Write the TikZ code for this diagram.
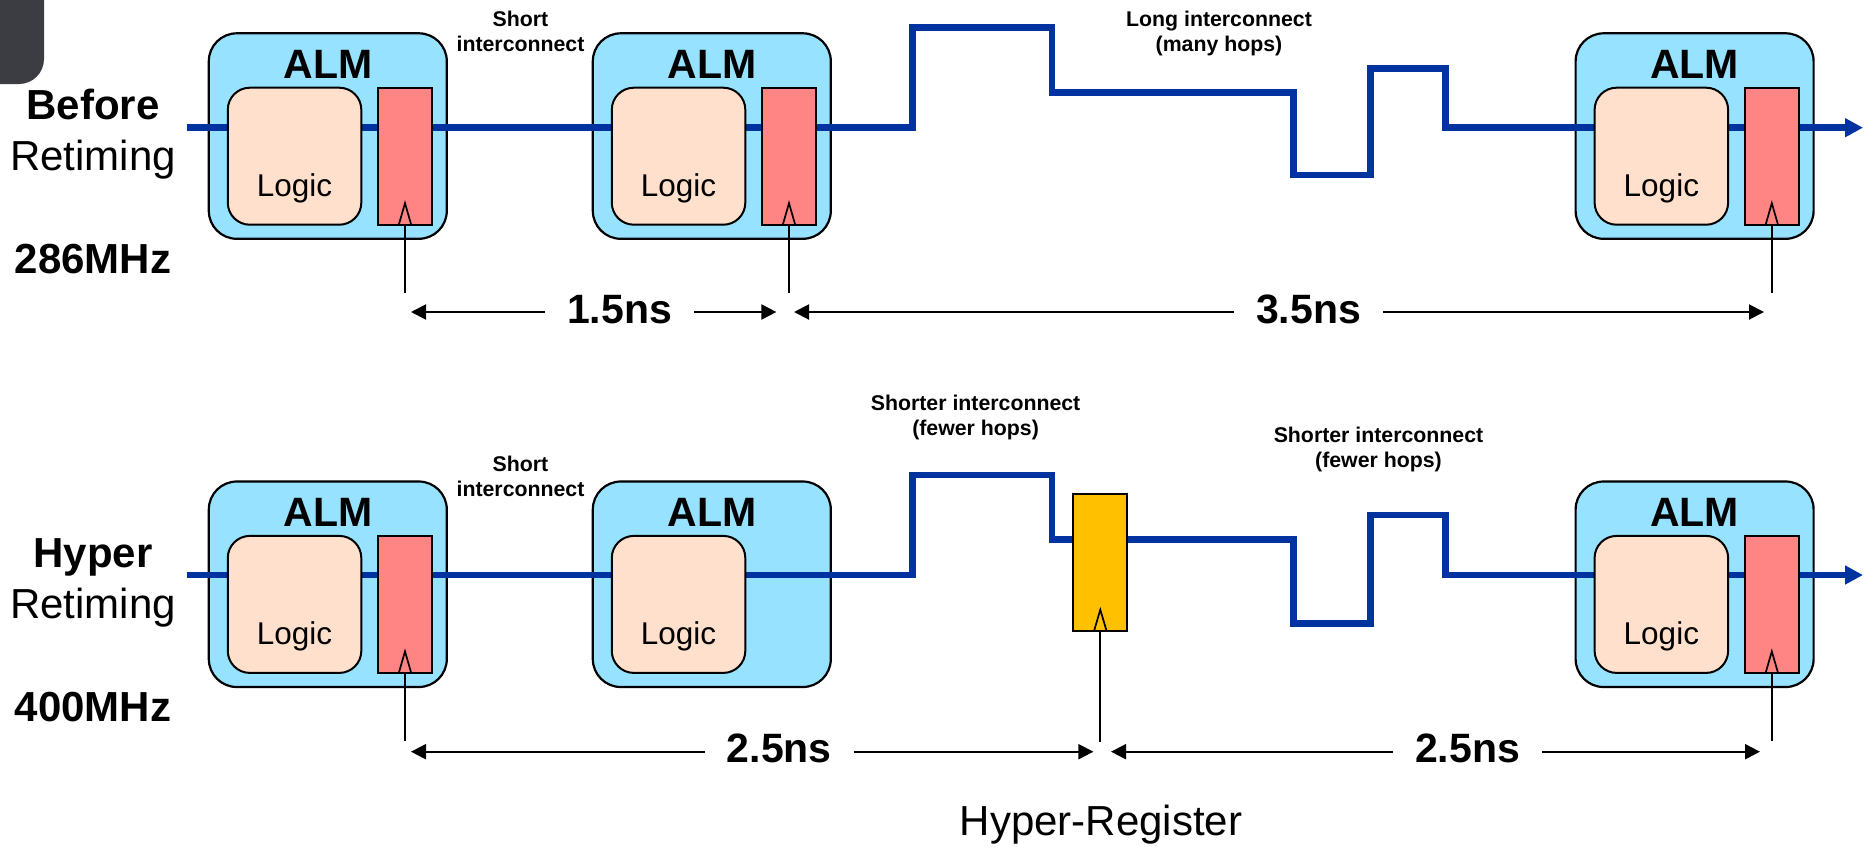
\documentclass[tikz,border=0pt]{standalone}
\usepackage{fontspec}
\setmainfont{Liberation Sans}
\usetikzlibrary{arrows.meta,calc}
\definecolor{almc}{RGB}{150,226,255}
\definecolor{logc}{RGB}{255,224,204}
\definecolor{regc}{RGB}{255,133,133}
\definecolor{hypc}{RGB}{255,192,0}
\definecolor{wirec}{RGB}{0,51,160}
\definecolor{tabc}{RGB}{60,61,66}
\pgfdeclarelayer{bg}\pgfdeclarelayer{mid}\pgfsetlayers{bg,mid,main}
% #1 id, #2 left x, #3 top y, #4 = 1 if the ALM has a register
\newcommand\almunit[4]{%
  \begin{pgfonlayer}{bg}
    \node[almbox,anchor=north west] (a#1) at (#2,#3) {};
  \end{pgfonlayer}
  \node[almlbl] (at#1) at ($(a#1.north)+(0,45.3)$) {ALM};
  \node[logicbox,anchor=north west] (l#1) at ($(a#1.north west)+(19,54.4)$) {};
  \node[logiclbl] (lt#1) at ($(l#1.north)+(0,109)$) {Logic};
  \ifnum#4=1
    \node[regbox,anchor=north west] (r#1) at ($(a#1.north west)+(169.2,54.4)$) {};
    \coordinate (c#1) at ($(r#1.south)+(0,68)$);
    \draw[clk] (c#1) -- (r#1.south);
    \draw[clk] ([xshift=-6.2pt]r#1.south) -- ([yshift=21.5pt]r#1.south) -- ([xshift=6.2pt]r#1.south);
  \fi
}
\begin{document}
\begin{tikzpicture}[x=1pt,y=-1pt,
  almbox/.style={draw=black,line width=2.2pt,fill=almc,rounded corners=28pt,minimum width=238pt,minimum height=205.5pt,inner sep=0pt,outer sep=0pt},
  logicbox/.style={draw=black,line width=2pt,fill=logc,rounded corners=22pt,minimum width=133.5pt,minimum height=137pt,inner sep=0pt,outer sep=0pt},
  regbox/.style={draw=black,line width=1.8pt,fill=regc,minimum width=54pt,minimum height=137pt,inner sep=0pt,outer sep=0pt},
  hregbox/.style={regbox,fill=hypc,minimum height=136.4pt},
  wire/.style={draw=wirec,line width=6.5pt,line join=miter},
  clk/.style={draw=black,line width=1.7pt},
  dim/.style={draw=black,line width=2pt,-{Triangle[length=15pt,width=15pt]}},
  dimlbl/.style={font=\fontsize{41}{49}\selectfont\bfseries,inner xsep=22pt,inner ysep=0pt,anchor=base},
  almlbl/.style={font=\fontsize{41}{49}\selectfont\bfseries,inner sep=0pt,anchor=base},
  logiclbl/.style={font=\fontsize{31.5}{38}\selectfont,inner sep=0pt,anchor=base},
  side/.style={font=\fontsize{42}{50}\selectfont,inner sep=0pt,anchor=base},
  sideb/.style={font=\fontsize{42}{50}\selectfont\bfseries,inner sep=0pt,anchor=base},
  note/.style={font=\fontsize{21.3}{25}\selectfont\bfseries,inner sep=0pt,anchor=base},
]
\useasboundingbox (0,0) rectangle (1870,846);
\fill[tabc,rounded corners=25pt] (-40,-40) rectangle (44,84);

% ---------- row 1 : before retiming ----------
\node[sideb] (b1) at (93,119.3) {Before};
\node[side]  (b2) at (93,170.7) {Retiming};
\node[sideb] (b3) at (93,273.3) {286MHz};

\almunit{11}{208.8}{33.3}{1}
\almunit{12}{592.8}{33.3}{1}
\almunit{13}{1575.6}{33.3}{1}

\node[note] (n11) at (520.5,26.7) {\begin{tabular}[t]{@{}c@{}}Short\\interconnect\end{tabular}};
\node[note] (n12) at (1219,26.7) {\begin{tabular}[t]{@{}c@{}}Long interconnect\\(many hops)\end{tabular}};

\coordinate (w1s) at (187,127.7);
\coordinate (w1e) at (1863,127.7);
\begin{pgfonlayer}{mid}
\draw[wire,-{Triangle[length=18pt,width=18pt]}] (w1s) -- (912.6,127.7) -- (912.6,27.7) -- (1052,27.7) -- (1052,92.3)
  -- (1293.5,92.3) -- (1293.5,175) -- (1370.6,175) -- (1370.6,68.3) -- (1445.7,68.3) -- (1445.7,127.7) -- (w1e);
\end{pgfonlayer}

\node[dimlbl] (d1) at (619.5,323) {1.5ns};
\node[dimlbl] (d2) at (1308.5,323) {3.5ns};
\coordinate (t1a) at (411,312);
\coordinate (t1b) at (776.4,312);
\coordinate (t1c) at (794,312);
\coordinate (t1d) at (1764,312);
\draw[dim] (d1.west |- t1a) -- (t1a);
\draw[dim] (d1.east |- t1b) -- (t1b);
\draw[dim] (d2.west |- t1c) -- (t1c);
\draw[dim] (d2.east |- t1d) -- (t1d);

% ---------- row 2 : hyper retiming ----------
\node[sideb] (h1) at (93,567.8) {Hyper};
\node[side]  (h2) at (93,618.7) {Retiming};
\node[sideb] (h3) at (93,721.7) {400MHz};

\almunit{21}{208.8}{481.5}{1}
\almunit{22}{592.8}{481.5}{0}
\almunit{23}{1575.6}{481.5}{1}

\node[hregbox,anchor=north west] (hr) at (1073.3,494.3) {};
\coordinate (ch) at ($(hr.south)+(0,111)$);
\draw[clk] (ch) -- (hr.south);
\draw[clk] ([xshift=-6.2pt]hr.south) -- ([yshift=21pt]hr.south) -- ([xshift=6.2pt]hr.south);

\node[note] (n21) at (520.5,471.7) {\begin{tabular}[t]{@{}c@{}}Short\\interconnect\end{tabular}};
\node[note] (n22) at (975.6,410) {\begin{tabular}[t]{@{}c@{}}Shorter interconnect\\(fewer hops)\end{tabular}};
\node[note] (n23) at (1378.5,442) {\begin{tabular}[t]{@{}c@{}}Shorter interconnect\\(fewer hops)\end{tabular}};

\coordinate (w2s) at (187,575);
\coordinate (w2e) at (1863,575);
\begin{pgfonlayer}{mid}
\draw[wire,-{Triangle[length=18pt,width=18pt]}] (w2s) -- (912.6,575) -- (912.6,475) -- (1052,475) -- (1052,539.5)
  -- (1293.5,539.5) -- (1293.5,623.3) -- (1370.6,623.3) -- (1370.6,515) -- (1445.7,515) -- (1445.7,575) -- (w2e);
\end{pgfonlayer}

\node[dimlbl] (d3) at (779.3,762.5) {2.5ns};
\node[dimlbl] (d4) at (1467.6,762.5) {2.5ns};
\coordinate (t2a) at (411,751.7);
\coordinate (t2b) at (1093.4,751.7);
\coordinate (t2c) at (1111,751.7);
\coordinate (t2d) at (1760,751.7);
\draw[dim] (d3.west |- t2a) -- (t2a);
\draw[dim] (d3.east |- t2b) -- (t2b);
\draw[dim] (d4.west |- t2c) -- (t2c);
\draw[dim] (d4.east |- t2d) -- (t2d);

\node[side] (hrl) at (1101,835) {Hyper-Register};
\end{tikzpicture}
\end{document}
